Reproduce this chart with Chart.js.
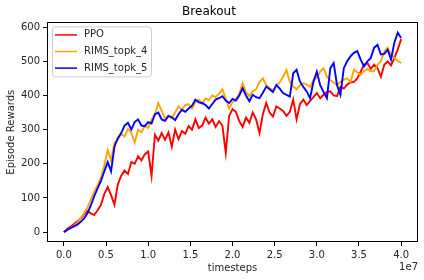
<!DOCTYPE html>
<html>
<head>
<meta charset="utf-8">
<script src="https://cdn.jsdelivr.net/npm/chart.js@4.4.0/dist/chart.umd.min.js"></script>
<style>
  body { margin: 0; background: #fff; }
</style>
</head>
<body>
<canvas id="grafico" width="424" height="280"></canvas>
<script>
// timesteps, em unidades de 1e7
let timesteps = [0.00, 0.04, 0.08, 0.12, 0.16, 0.20, 0.24, 0.28, 0.32, 0.36,
    0.40, 0.44, 0.48, 0.52, 0.56, 0.60, 0.64, 0.68, 0.72, 0.76,
    0.80, 0.84, 0.88, 0.92, 0.96, 1.00, 1.04, 1.08, 1.12, 1.16,
    1.20, 1.24, 1.28, 1.32, 1.36, 1.40, 1.44, 1.48, 1.52, 1.56,
    1.60, 1.64, 1.68, 1.72, 1.76, 1.80, 1.84, 1.88, 1.92, 1.96,
    2.00, 2.04, 2.08, 2.12, 2.16, 2.20, 2.24, 2.28, 2.32, 2.36,
    2.40, 2.44, 2.48, 2.52, 2.56, 2.60, 2.64, 2.68, 2.72, 2.76,
    2.80, 2.84, 2.88, 2.92, 2.96, 3.00, 3.04, 3.08, 3.12, 3.16,
    3.20, 3.24, 3.28, 3.32, 3.36, 3.40, 3.44, 3.48, 3.52, 3.56,
    3.60, 3.64, 3.68, 3.72, 3.76, 3.80, 3.84, 3.88, 3.92, 3.96,
    4.00]

let ppo = [0, 10, 16, 24, 32, 40, 52, 62, 55, 50,
    64, 80, 112, 132, 108, 80, 140, 165, 180, 170,
    205, 200, 222, 210, 228, 236, 165, 285, 268, 290,
    270, 292, 250, 300, 272, 296, 288, 310, 300, 330,
    305, 312, 335, 318, 330, 308, 325, 312, 232, 340,
    360, 352, 325, 308, 335, 320, 350, 330, 290, 345,
    378, 350, 338, 368, 362, 355, 340, 352, 388, 330,
    375, 388, 372, 384, 395, 407, 392, 402, 410, 412,
    400, 398, 425, 420, 432, 438, 440, 450, 470, 490,
    495, 478, 490, 480, 455, 490, 500, 488, 510, 535,
    565]

let rimsTopk4 = [0, 6, 12, 18, 28, 42, 55, 72, 96, 118,
    138, 160, 196, 240, 210, 262, 270, 288, 280, 302,
    290, 262, 300, 292, 312, 305, 330, 345, 378, 355,
    332, 340, 335, 350, 368, 358, 372, 375, 362, 380,
    388, 375, 392, 386, 400, 395, 405, 418, 390, 362,
    380, 388, 405, 436, 410, 398, 412, 418, 440, 450,
    430, 422, 415, 428, 438, 455, 475, 440, 426, 418,
    430, 436, 432, 425, 445, 452, 470, 480, 455, 445,
    438, 430, 440, 446, 450, 440, 475, 468, 460, 472,
    478, 470, 472, 490, 500, 528, 540, 520, 510, 502,
    495]

let rimsTopk5 = [0, 6, 12, 17, 22, 30, 40, 55, 78, 105,
    128, 150, 178, 205, 178, 250, 275, 290, 312, 320,
    300, 322, 330, 312, 310, 322, 318, 345, 350, 330,
    326, 340, 336, 328, 345, 358, 352, 362, 370, 388,
    380, 378, 372, 362, 375, 388, 392, 398, 385, 378,
    390, 385, 400, 421, 400, 383, 402, 395, 392, 408,
    426, 418, 410, 431, 420, 407, 402, 397, 465, 475,
    441, 425, 412, 392, 440, 470, 430, 410, 392, 480,
    495, 430, 402, 480, 500, 515, 525, 530, 505, 485,
    500, 510, 540, 548, 520, 522, 534, 505, 555, 584,
    568]

let xTicks = [0, 0.5, 1.0, 1.5, 2.0, 2.5, 3.0, 3.5, 4.0]
let yTicks = [0, 100, 200, 300, 400, 500, 600]

const FONT = 'DejaVu Sans'
const INK = '#262626'

function pontos(serie) {
    return timesteps.map((t, i) => ({ x: t, y: serie[i] }))
}

let data = {
    datasets: [{
        label: 'PPO',
        borderColor: 'red',
        data: pontos(ppo),
        order: 3
    },
    {
        label: 'RIMS_topk_4',
        borderColor: 'orange',
        data: pontos(rimsTopk4),
        order: 2
    },
    {
        label: 'RIMS_topk_5',
        borderColor: 'blue',
        data: pontos(rimsTopk5),
        order: 1
    }]
}

// moldura, legenda e o "1e7"
const extras = {
    id: 'extras',
    afterDraw(chart) {
        const { ctx, chartArea: a } = chart
        ctx.save()
        ctx.strokeStyle = '#000'
        ctx.lineWidth = 1
        ctx.strokeRect(Math.round(a.left) + 0.5, Math.round(a.top) + 0.5,
            Math.round(a.right - a.left) - 1, Math.round(a.bottom - a.top) - 1)

        // legenda
        let lx = a.left + 5.5, ly = a.top + 4.5, lw = 99, lh = 50, r = 3
        ctx.beginPath()
        ctx.moveTo(lx + r, ly)
        ctx.arcTo(lx + lw, ly, lx + lw, ly + lh, r)
        ctx.arcTo(lx + lw, ly + lh, lx, ly + lh, r)
        ctx.arcTo(lx, ly + lh, lx, ly, r)
        ctx.arcTo(lx, ly, lx + lw, ly, r)
        ctx.closePath()
        ctx.fillStyle = 'rgba(255,255,255,0.8)'
        ctx.fill()
        ctx.strokeStyle = '#cccccc'
        ctx.stroke()

        ctx.font = '10px "' + FONT + '"'
        ctx.textBaseline = 'middle'
        ctx.textAlign = 'left'
        chart.data.datasets.forEach((ds, i) => {
            let y = a.top + 12.5 + i * 16.6
            ctx.strokeStyle = ds.borderColor
            ctx.lineWidth = 1.5
            ctx.beginPath()
            ctx.moveTo(a.left + 8, y)
            ctx.lineTo(a.left + 30, y)
            ctx.stroke()
            ctx.fillStyle = INK
            ctx.fillText(ds.label, a.left + 37, y)
        })

        ctx.textAlign = 'right'
        ctx.fillText('1e7', a.right, 267)
        ctx.restore()
    }
}

//Configurações do gráfico
var options = {
    responsive: false,
    animation: false,
    layout: { padding: { left: 0, right: 6, top: 0, bottom: 0 } },
    elements: {
        line: { borderWidth: 1.9, tension: 0 },
        point: { radius: 0 }
    },
    plugins: {
        legend: { display: false },
        tooltip: { enabled: false },
        title: {
            display: true,
            text: 'Breakout',
            color: '#000',
            font: { family: FONT, size: 12, weight: 'normal' },
            padding: { top: 5, bottom: 3 }
        }
    },
    scales: {
        x: {
            type: 'linear',
            min: -0.2,
            max: 4.2,
            afterBuildTicks: s => { s.ticks = xTicks.map(v => ({ value: v })) },
            afterFit: s => { s.height = 38 },
            grid: { drawOnChartArea: false, drawTicks: true, tickLength: 4, color: '#000' },
            border: { display: false },
            ticks: {
                color: INK,
                padding: 3,
                maxRotation: 0,
                font: { family: FONT, size: 10 },
                callback: v => v.toFixed(1)
            },
            title: {
                display: true,
                text: 'timesteps',
                color: INK,
                font: { family: FONT, size: 10 },
                padding: { top: 0, bottom: 6 }
            }
        },
        y: {
            min: -29,
            max: 614,
            afterBuildTicks: s => { s.ticks = yTicks.map(v => ({ value: v })) },
            afterFit: s => { s.width = 47 },
            grid: { drawOnChartArea: false, drawTicks: true, tickLength: 4, color: '#000' },
            border: { display: false },
            ticks: {
                color: INK,
                padding: 3,
                font: { family: FONT, size: 10 }
            },
            title: {
                display: true,
                text: 'Episode Rewards',
                color: INK,
                font: { family: FONT, size: 10 },
                padding: { top: 5, bottom: 0 }
            }
        }
    }
}

//Criar o gráfico de linhas
let ctx = document.querySelector('#grafico').getContext('2d')
let lineChart = new Chart(ctx, {
    type: 'line',
    data: data,
    options: options,
    plugins: [extras]
})
</script>
</body>
</html>
